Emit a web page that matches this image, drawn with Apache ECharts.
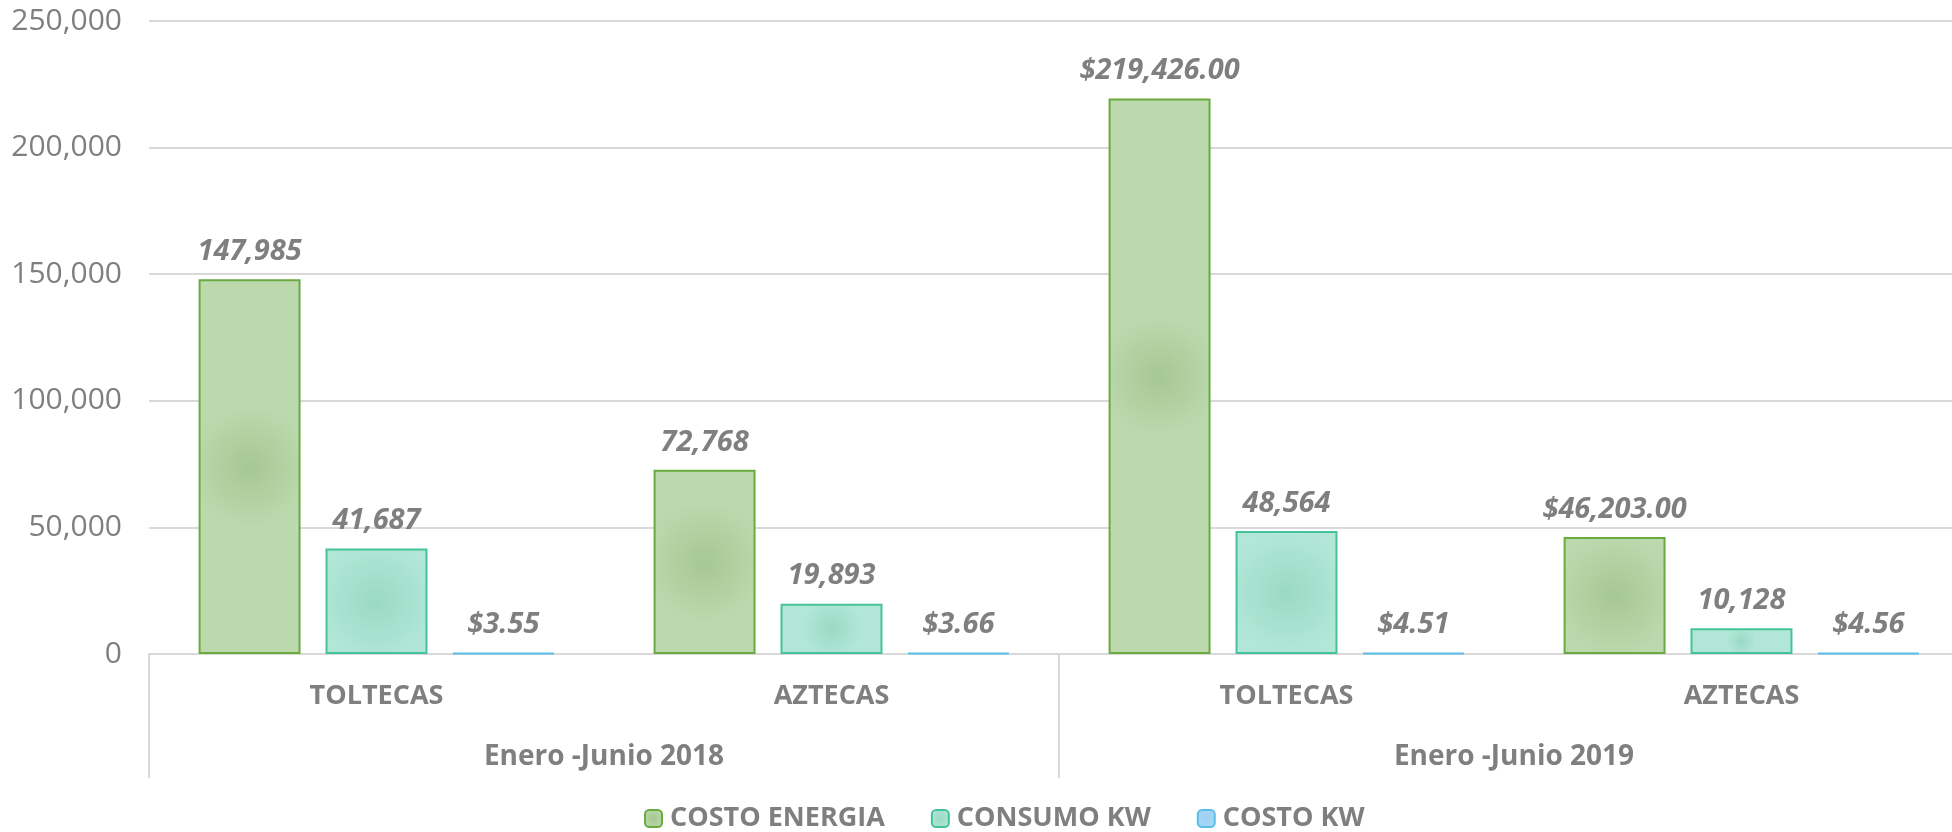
<!DOCTYPE html>
<html>
<head>
<meta charset="utf-8">
<script src="https://cdn.jsdelivr.net/npm/echarts@6/dist/echarts.min.js"></script>
<style>
  html, body { margin: 0; padding: 0; background: #fff; overflow: hidden; }
  /* el area del grafico sigue un poco mas alla del borde derecho */
  #chart { width: 1969px; height: 832px; }
</style>
</head>
<body>
<div id="chart"></div>
<script>
  // datos
  const categorias = ['TOLTECAS', 'AZTECAS', 'TOLTECAS', 'AZTECAS'];
  const periodos = ['Enero -Junio 2018', 'Enero -Junio 2019'];
  const costoEnergia = [147985, 72768, 219426, 46203];
  const consumoKw = [41687, 19893, 48564, 10128];
  const costoKw = [3.55, 3.66, 4.51, 4.56];
  const yTicks = [0, 50000, 100000, 150000, 200000, 250000];

  // formato de etiqueta por punto
  const formatoEnergia = ['int', 'int', 'money', 'money'];
  const formatoConsumo = ['int', 'int', 'int', 'int'];
  const formatoCostoKw = ['money', 'money', 'money', 'money'];

  const FONT = 'Open Sans';
  const GRIS = '#7f7f7f';

  function fmt(v, tipo) {
    if (tipo === 'money') {
      return '$' + v.toLocaleString('en-US', { minimumFractionDigits: 2, maximumFractionDigits: 2 });
    }
    return Math.round(v).toLocaleString('en-US');
  }

  function relleno(centro, borde) {
    return {
      type: 'radial', x: 0.5, y: 0.5, r: 0.6,
      colorStops: [
        { offset: 0, color: centro },
        { offset: 1, color: borde },
      ],
    };
  }

  function serie(nombre, datos, formatos, centro, borde, linea) {
    return {
      name: nombre,
      type: 'bar',
      xAxisIndex: 0,
      barMinHeight: 1,
      data: datos,
      itemStyle: { color: relleno(centro, borde), borderColor: linea, borderWidth: 2 },
      label: {
        show: true,
        position: 'top',
        distance: 13,
        fontFamily: FONT,
        fontSize: 29,
        fontWeight: 'bold',
        fontStyle: 'italic',
        color: GRIS,
        formatter: (p) => fmt(p.value, formatos[p.dataIndex]),
      },
    };
  }

  const chart = echarts.init(document.getElementById('chart'));
  const option = {
    animation: false,
    textStyle: { fontFamily: FONT },
    grid: { left: 149, right: 0, top: 21, bottom: 178, containLabel: false },
    legend: {
      bottom: -5,
      left: 639,
      itemWidth: 17,
      itemHeight: 17,
      itemGap: 46,
      textStyle: { fontFamily: FONT, fontSize: 27, fontWeight: 'bold', color: GRIS, padding: [0, 0, 0, 3] },
      data: ['COSTO ENERGIA', 'CONSUMO KW', 'COSTO KW'],
    },
    xAxis: [
      {
        type: 'category',
        data: categorias,
        axisLine: { show: true, lineStyle: { color: '#d9d9d9', width: 2 } },
        axisTick: { show: false },
        axisLabel: { margin: 29, fontFamily: FONT, fontSize: 27, fontWeight: 'bold', color: GRIS },
      },
      {
        type: 'category',
        data: periodos,
        position: 'bottom',
        axisLine: { show: false },
        axisTick: { show: true, length: 124, lineStyle: { color: '#d9d9d9', width: 2 } },
        axisLabel: { margin: 89, fontFamily: FONT, fontSize: 28, fontWeight: 'bold', color: GRIS },
      },
    ],
    yAxis: {
      type: 'value',
      min: yTicks[0],
      max: yTicks[yTicks.length - 1],
      interval: yTicks[1] - yTicks[0],
      axisLine: { show: false },
      axisTick: { show: false },
      splitLine: { lineStyle: { color: '#d9d9d9', width: 2 } },
      axisLabel: {
        margin: 27,
        fontFamily: FONT,
        fontSize: 30,
        color: GRIS,
        formatter: (v) => v.toLocaleString('en-US'),
      },
    },
    series: [
      Object.assign(serie('COSTO ENERGIA', costoEnergia, formatoEnergia, '#a6c893', '#bcd9ae', '#6aaa3f'), {
        barGap: '24.5%',
        barCategoryGap: '21.8%',
      }),
      serie('CONSUMO KW', consumoKw, formatoConsumo, '#9bd9c5', '#b2e7d7', '#44c29c'),
      serie('COSTO KW', costoKw, formatoCostoKw, '#9fd0f0', '#a8d8f5', '#5bbde8'),
    ],
  };
  chart.setOption(option);
</script>
</body>
</html>
